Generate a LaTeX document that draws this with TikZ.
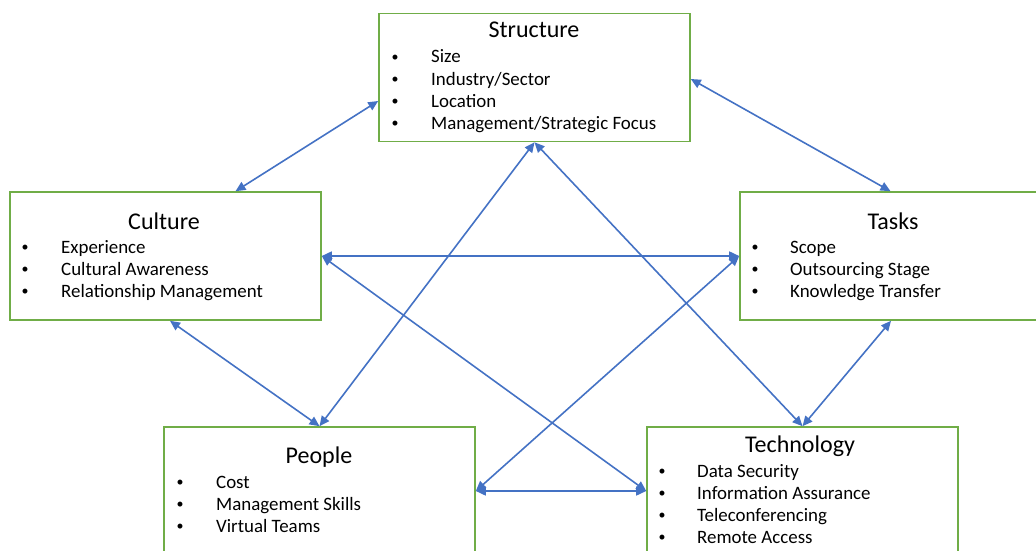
\documentclass[tikz,border=0pt]{standalone}
\usepackage{fontspec}
\setmainfont{Carlito}
\usetikzlibrary{arrows.meta}
\definecolor{boxgreen}{HTML}{70AD47}
\definecolor{linkblue}{HTML}{4472C4}
\tikzset{
  factor/.style={draw=boxgreen, line width=1.6pt, minimum width=311pt,
    minimum height=128pt, inner sep=0pt},
  heading/.style={anchor=base, inner sep=0pt, font=\fontsize{24}{28}\selectfont},
  entry/.style={anchor=base west, inner sep=0pt, font=\fontsize{18.9}{22}\selectfont},
  dot/.style={anchor=base, inner sep=0pt, yshift=1.7pt, font=\fontsize{14}{16}\selectfont},
  link/.style={draw=linkblue, line width=1.6pt,
    {Triangle[length=10pt,width=9pt]}-{Triangle[length=10pt,width=9pt]}},
}
% bullet at x=#1, text at x=#2, baseline y=#3
\newcommand\factoritem[5]{%
  \node[dot] (#5d) at (#1,#3) {•};
  \node[entry] (#5) at (#2,#3) {#4};
}
\begin{document}
\begin{tikzpicture}[x=1pt,y=-1pt]
\useasboundingbox (0,0) rectangle (1036,551);
\clip (0,0) rectangle (1036,551);

% boxes
\node[factor] (struct) at (534.5,77.5) {};
\node[factor] (cult)   at (165.5,256) {};
\node[factor] (tasks)  at (895.5,256) {};
\node[factor] (people) at (319.5,491) {};
\node[factor] (tech)   at (802.5,491) {};

% Structure
\node[heading] (structT) at (534,38) {Structure};
\factoritem{395}{431}{63}{Size}{s1}
\factoritem{395}{431}{85.5}{Industry/Sector}{s2}
\factoritem{395}{431}{107.5}{Location}{s3}
\factoritem{395}{431}{129.5}{Management/Strategic Focus}{s4}

% Culture
\node[heading] (cultT) at (164,229) {Culture};
\factoritem{25}{61}{253}{Experience}{c1}
\factoritem{25}{61}{275.5}{Cultural Awareness}{c2}
\factoritem{25}{61}{297.5}{Relationship Management}{c3}

% Tasks
\node[heading] (tasksT) at (893,229) {Tasks};
\factoritem{755}{790}{253}{Scope}{t1}
\factoritem{755}{790}{275.5}{Outsourcing Stage}{t2}
\factoritem{755}{790}{297.5}{Knowledge Transfer}{t3}

% People
\node[heading] (peopleT) at (319,463) {People};
\factoritem{180}{216}{488}{Cost}{p1}
\factoritem{180}{216}{510.5}{Management Skills}{p2}
\factoritem{180}{216}{532.5}{Virtual Teams}{p3}

% Technology
\node[heading] (techT) at (800,452) {Technology};
\factoritem{662}{697}{477}{Data Security}{k1}
\factoritem{662}{697}{499}{Information Assurance}{k2}
\factoritem{662}{697}{521.5}{Teleconferencing}{k3}
\factoritem{662}{697}{543.5}{Remote Access}{k4}

% relationships
\draw[link] ([yshift=-23.5pt]struct.west) -- ([xshift=70pt]cult.north);
\draw[link] ([yshift=-1.5pt]struct.east) -- ([xshift=-5pt]tasks.north);
\draw[link] (struct.south) -- (people.north);
\draw[link] (struct.south) -- (tech.north);
\draw[link] (cult.east) -- (tasks.west);
\draw[link] (cult.east) -- (tech.west);
\draw[link] ([xshift=4.5pt]cult.south) -- (people.north);
\draw[link] (people.east) -- (tasks.west);
\draw[link] (people.east) -- (tech.west);
\draw[link] ([xshift=-4.5pt]tasks.south) -- (tech.north);
\end{tikzpicture}
\end{document}
